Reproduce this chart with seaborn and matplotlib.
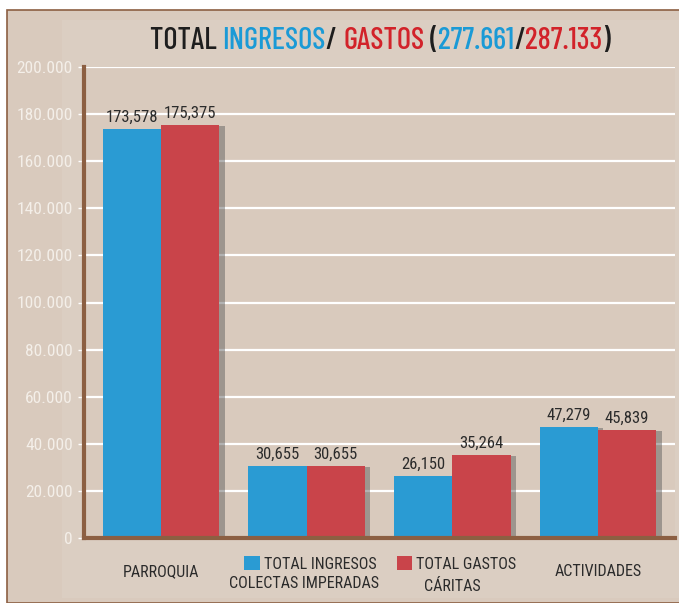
import pandas as pd
import seaborn as sns
import matplotlib.pyplot as plt
from matplotlib.patches import Rectangle, Patch
from matplotlib.ticker import FuncFormatter
import matplotlib.patheffects as pe

categories = ["PARROQUIA", "COLECTAS IMPERADAS", "CÁRITAS", "ACTIVIDADES"]
tick_labels = ["PARROQUIA", "", "", "ACTIVIDADES"]
series = ["TOTAL INGRESOS", "TOTAL GASTOS"]
ingresos = [173578, 30655, 26150, 47279]
gastos = [175375, 30655, 35264, 45839]
y_ticks = [0, 20000, 40000, 60000, 80000, 100000, 120000, 140000, 160000, 180000, 200000]

BG = "#d9cabd"
BROWN = "#8c5f42"
BLUE = "#2a9bd3"
RED = "#c9444a"

df = pd.DataFrame({
    "categoria": categories * 2,
    "serie": [series[0]] * 4 + [series[1]] * 4,
    "valor": ingresos + gastos,
})

sns.set_theme(style="white")
plt.rcParams["font.family"] = ["Roboto Condensed", "Archivo Narrow", "DejaVu Sans"]
TITLE_FONT = ["Barlow Condensed", "Roboto Condensed", "DejaVu Sans"]

fig = plt.figure(figsize=(6.79, 6.03), dpi=100)
fig.patch.set_facecolor("white")

# outer frame and inner panel
fig.add_artist(Rectangle((7 / 679, 0), 1, 1 - 10 / 603, transform=fig.transFigure,
                         facecolor=BG, edgecolor=BROWN, lw=1.2, zorder=-10))
fig.add_artist(Rectangle((62 / 679, 5 / 603), 1, 1 - 25 / 603, transform=fig.transFigure,
                         facecolor="#dbcec2", edgecolor="none", zorder=-9))

ax = fig.add_axes([84 / 679, 1 - 538 / 603, 591 / 679, 471 / 603])
ax.set_facecolor(BG)

sns.barplot(data=df, x="categoria", y="valor", hue="serie", order=categories,
            hue_order=series, palette=[BLUE, RED], width=0.8, saturation=1,
            linewidth=0, legend=False, ax=ax, zorder=3)

for bar in ax.patches:
    bar.set_linewidth(0)
    bar.set_path_effects([pe.SimplePatchShadow(offset=(4, -1), shadow_rgbFace="#555555", alpha=0.45),
                          pe.Normal()])

for cont in ax.containers:
    ax.bar_label(cont, labels=[f"{v:,.0f}" for v in cont.datavalues], padding=3,
                 fontsize=12, color="#2b2b2b")

ax.set_xlim(-0.53, 3.53)
ax.set_ylim(0, 200000)
ax.set_yticks(y_ticks)
ax.yaxis.set_major_formatter(FuncFormatter(lambda v, p: f"{v:,.0f}".replace(",", ".")))
ax.yaxis.grid(True, color="white", lw=1.6, zorder=0)
ax.set_axisbelow(True)
ax.tick_params(axis="y", colors="white", labelcolor="#f4efe9", labelsize=12.5, length=4, width=1, pad=4, left=True)
ax.set_xticks(range(4))
ax.set_xticklabels(tick_labels, fontsize=11.5, color="#2b2b2b")
ax.tick_params(axis="x", length=0, pad=19)
ax.set_xlabel("")
ax.set_ylabel("")

# the two middle category names sit under the legend entries
for i, dy in [(1, -32.5), (2, -35)]:
    ax.annotate(categories[i], xy=(i, 0), xycoords=("data", "axes fraction"),
                xytext=(-2 if i == 1 else 0, dy), textcoords="offset points",
                ha="center", va="center", fontsize=11.5, color="#2b2b2b")

for s in ["top", "right"]:
    ax.spines[s].set_visible(False)
for s in ["left", "bottom"]:
    ax.spines[s].set_color(BROWN)
    ax.spines[s].set_linewidth(3)
    ax.spines[s].set_zorder(5)

# legend sitting between the category labels
handles = [Patch(facecolor=BLUE, edgecolor="none"), Patch(facecolor=RED, edgecolor="none")]
fig.legend(handles, series, ncol=2, loc="center left", bbox_to_anchor=(230 / 679, 1 - 564 / 603),
           frameon=False, fontsize=11.5, handlelength=0.95, handleheight=1.0, handletextpad=0.25,
           columnspacing=1.3, labelcolor="#2b2b2b")

# multi-coloured title
parts = [("TOTAL ", "#1e1e1e"), ("INGRESOS", "#1a9ad6"), ("/ ", "#1e1e1e"),
         ("GASTOS", "#d2232a"), (" (", "#1e1e1e"), ("277.661", "#1a9ad6"),
         ("/", "#1e1e1e"), ("287.133", "#d2232a"), (")", "#1e1e1e")]
renderer = fig.canvas.get_renderer()
texts = []
for s, c in parts:
    t = fig.text(0, 1 - 41 / 603, s, color=c, fontsize=22, va="center", ha="left",
                 family=TITLE_FONT, fontweight="medium")
    texts.append(t)
widths = [t.get_window_extent(renderer).width for t in texts]
x = 380 - sum(widths) / 2
for t, w in zip(texts, widths):
    t.set_x(x / 679)
    x += w

fig.savefig("out.png", dpi=100, facecolor="white")
